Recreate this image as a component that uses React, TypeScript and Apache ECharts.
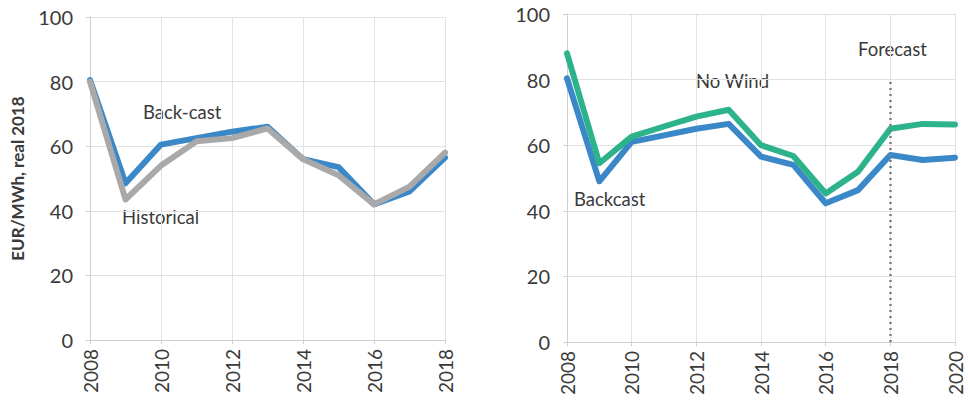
import React, { useEffect, useRef } from "react";
import * as echarts from "echarts";

const leftYears = [2008, 2009, 2010, 2011, 2012, 2013, 2014, 2015, 2016, 2017, 2018];
const leftBackcast = [80.5, 48.5, 60.5, 62.5, 64.5, 66, 56, 53.5, 42, 46, 56.5];
const leftHistorical = [80, 43.5, 54, 61.5, 62.5, 65.5, 56, 51, 42, 47.5, 58];

const rightYears = [2008, 2009, 2010, 2011, 2012, 2013, 2014, 2015, 2016, 2017, 2018, 2019, 2020];
const rightBackcast = [80.4, 49, 61, 63, 65, 66.5, 56.5, 54, 42.3, 46.3, 57, 55.5, 56.2];
const rightNoWind = [88, 54.5, 62.6, 65.7, 68.7, 70.8, 60, 56.7, 45.3, 51.9, 65, 66.5, 66.3];

const forecastYear = 2018;
const forecastTop = 80;

const BLUE = "#3b88c9";
const GREEN = "#2db38c";
const GRAY = "#a9a9a9";
const TXT = "#3a3a3a";
const FONT = "Lato, 'Open Sans', sans-serif";

function zip(xs: number[], ys: number[]) {
  return xs.map((x, i) => [x, ys[i]]);
}

export default function App() {
  const ref = useRef<HTMLDivElement>(null);
  useEffect(() => {
    if (!ref.current) return;
    const chart = echarts.init(ref.current, undefined, { renderer: "svg" });
    const xAxisBase = (min: number, max: number, gridIndex: number) => ({
      type: "value",
      gridIndex,
      min,
      max,
      interval: 2,
      axisLine: { show: true, lineStyle: { color: "#d0d0d0", width: 1 } },
      axisTick: { show: true, length: 4, lineStyle: { color: "#d0d0d0" } },
      splitLine: { show: true, lineStyle: { color: "#e2e2e2", width: 1 } },
      axisLabel: {
        rotate: 90,
        color: TXT,
        fontSize: 19,
        fontFamily: FONT,
        margin: 9,
        formatter: (v: number) => String(v),
      },
    });
    const yAxisBase = (gridIndex: number, name: string) => ({
      type: "value",
      gridIndex,
      min: 0,
      max: 100,
      interval: 20,
      name,
      nameLocation: "middle",
      nameGap: 64,
      nameTextStyle: { color: TXT, fontSize: 17, fontWeight: "bold", fontFamily: FONT },
      axisLine: { show: true, lineStyle: { color: "#d0d0d0", width: 1 } },
      axisTick: { show: true, length: 4, lineStyle: { color: "#d0d0d0" } },
      splitLine: { show: true, lineStyle: { color: "#e2e2e2", width: 1 } },
      axisLabel: { color: TXT, fontSize: 20, fontFamily: FONT, margin: 17 },
    });
    const lineSeries = (name: string, data: number[][], color: string, idx: number, z: number) => ({
      type: "line",
      name,
      xAxisIndex: idx,
      yAxisIndex: idx,
      data,
      symbol: "none",
      z,
      lineStyle: { color, width: 6, join: "round", cap: "round" },
    });
    const label = (text: string, left: number, top: number) => ({
      type: "text",
      left,
      top,
      style: { text, fill: TXT, fontSize: 18.5, fontFamily: FONT },
    });
    chart.setOption({
      animation: false,
      backgroundColor: "#ffffff",
      textStyle: { fontFamily: FONT },
      grid: [
        { left: 90, right: 523, top: 17, bottom: 63 },
        { left: 567, right: 13, top: 14, bottom: 61 },
      ],
      xAxis: [xAxisBase(2008, 2018, 0), xAxisBase(2008, 2020, 1)],
      yAxis: [yAxisBase(0, "EUR/MWh, real 2018"), yAxisBase(1, "")],
      series: [
        lineSeries("Back-cast", zip(leftYears, leftBackcast), BLUE, 0, 2),
        lineSeries("Historical", zip(leftYears, leftHistorical), GRAY, 0, 3),
        {
          ...lineSeries("Backcast", zip(rightYears, rightBackcast), BLUE, 1, 2),
          markLine: {
            silent: true,
            symbol: "none",
            label: { show: false },
            lineStyle: { color: "#7f7f7f", type: [2, 4], width: 2.5 },
            data: [[{ coord: [forecastYear, 0] }, { coord: [forecastYear, forecastTop] }]],
          },
        },
        lineSeries("No Wind", zip(rightYears, rightNoWind), GREEN, 1, 3),
      ],
      graphic: [
        label("Back-cast", 143, 102),
        label("Historical", 122, 207),
        label("No Wind", 696, 71),
        label("Backcast", 574, 189),
        label("Forecast", 858, 39),
      ],
    });
    return () => chart.dispose();
  }, []);
  return (
    <div
      ref={ref}
      style={{ position: "absolute", left: 0, top: 0, width: 968, height: 403, background: "#fff" }}
    />
  );
}
